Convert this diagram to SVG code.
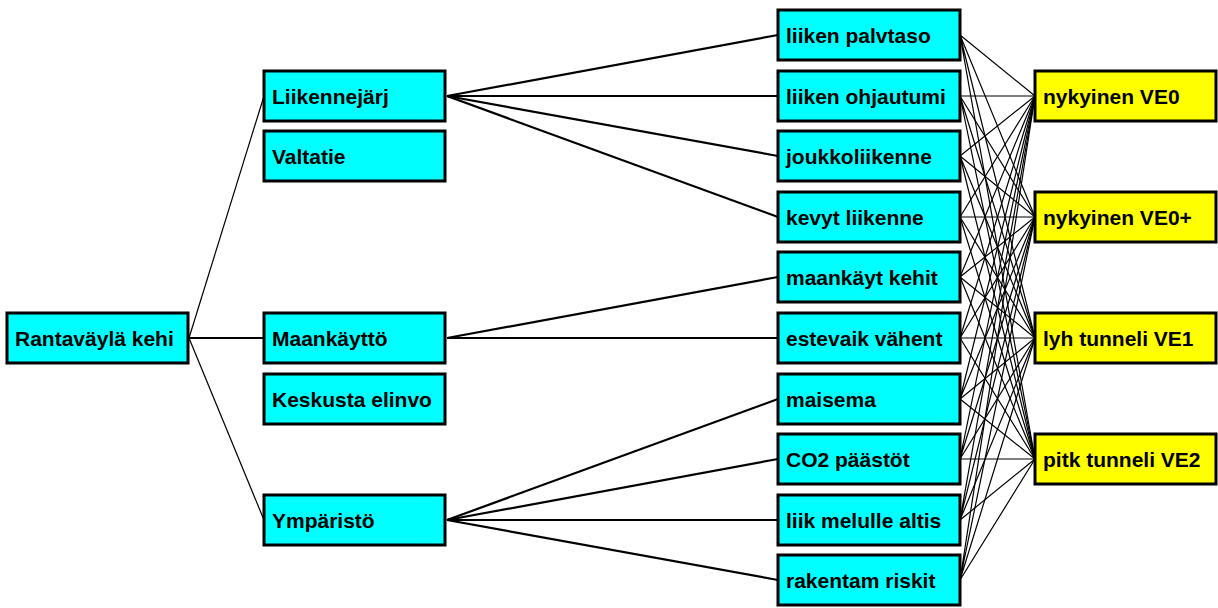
<svg xmlns="http://www.w3.org/2000/svg" width="1218" height="608" viewBox="0 0 1218 608">
  <style>
    .box { stroke: #000; stroke-width: 3; }
    .cyan { fill: #00ffff; }
    .yellow { fill: #ffff00; }
    .lbl { font-family: "Liberation Sans", Arial, sans-serif; font-weight: bold; font-size: 21px; fill: #000; }
    .thin { stroke: #000; stroke-width: 1.2; fill: none; }
    .thick { stroke: #000; stroke-width: 2.2; fill: none; }
  </style>
  <rect width="1218" height="608" fill="#fff"/>

  <!-- connectors -->
  <g id="connectors">
    <!-- root to first level -->
    <line class="thin" x1="189" y1="338" x2="264" y2="96"/>
    <line class="thick" x1="189" y1="338" x2="264" y2="338"/>
    <line class="thin" x1="189" y1="338" x2="264" y2="520"/>
    <!-- Liikennejärj -->
    <line class="thick" x1="447" y1="96" x2="778" y2="35"/>
    <line class="thick" x1="447" y1="96" x2="778" y2="96"/>
    <line class="thick" x1="447" y1="96" x2="778" y2="156"/>
    <line class="thick" x1="447" y1="96" x2="778" y2="217"/>
    <!-- Maankäyttö -->
    <line class="thick" x1="447" y1="338" x2="778" y2="277"/>
    <line class="thick" x1="447" y1="338" x2="778" y2="338"/>
    <!-- Ympäristö -->
    <line class="thick" x1="447" y1="520" x2="778" y2="399"/>
    <line class="thick" x1="447" y1="520" x2="778" y2="459"/>
    <line class="thick" x1="447" y1="520" x2="778" y2="520"/>
    <line class="thick" x1="447" y1="520" x2="778" y2="580"/>
    <!-- criteria to alternatives -->
    <g class="thin">
      <path d="M960 35L1035 96M960 35L1035 217M960 35L1035 338M960 35L1035 459"/>
      <path d="M960 96L1035 96M960 96L1035 217M960 96L1035 338M960 96L1035 459"/>
      <path d="M960 156L1035 96M960 156L1035 217M960 156L1035 338M960 156L1035 459"/>
      <path d="M960 217L1035 96M960 217L1035 217M960 217L1035 338M960 217L1035 459"/>
      <path d="M960 277L1035 96M960 277L1035 217M960 277L1035 338M960 277L1035 459"/>
      <path d="M960 338L1035 96M960 338L1035 217M960 338L1035 338M960 338L1035 459"/>
      <path d="M960 399L1035 96M960 399L1035 217M960 399L1035 338M960 399L1035 459"/>
      <path d="M960 459L1035 96M960 459L1035 217M960 459L1035 338M960 459L1035 459"/>
      <path d="M960 520L1035 96M960 520L1035 217M960 520L1035 338M960 520L1035 459"/>
      <path d="M960 580L1035 96M960 580L1035 217M960 580L1035 338M960 580L1035 459"/>
    </g>
  </g>

  <!-- root -->
  <g id="n-rantavayla"><rect class="box cyan" x="7" y="313" width="181" height="50"/><text class="lbl" x="15" y="346">Rantaväylä kehi</text></g>

  <!-- first level -->
  <g id="n-liikennejarj"><rect class="box cyan" x="264" y="71" width="181" height="50"/><text class="lbl" x="272" y="104">Liikennejärj</text></g>
  <g id="n-valtatie"><rect class="box cyan" x="264" y="131" width="181" height="50"/><text class="lbl" x="272" y="164">Valtatie</text></g>
  <g id="n-maankaytto"><rect class="box cyan" x="264" y="313" width="181" height="50"/><text class="lbl" x="272" y="346">Maankäyttö</text></g>
  <g id="n-keskusta"><rect class="box cyan" x="264" y="374" width="181" height="50"/><text class="lbl" x="272" y="407">Keskusta elinvo</text></g>
  <g id="n-ymparisto"><rect class="box cyan" x="264" y="495" width="181" height="50"/><text class="lbl" x="272" y="528">Ympäristö</text></g>

  <!-- criteria -->
  <g id="n-palvtaso"><rect class="box cyan" x="778" y="10" width="182" height="50"/><text class="lbl" x="786" y="43">liiken palvtaso</text></g>
  <g id="n-ohjautumi"><rect class="box cyan" x="778" y="71" width="182" height="50"/><text class="lbl" x="786" y="104">liiken ohjautumi</text></g>
  <g id="n-joukkoliikenne"><rect class="box cyan" x="778" y="131" width="182" height="50"/><text class="lbl" x="786" y="164">joukkoliikenne</text></g>
  <g id="n-kevyt"><rect class="box cyan" x="778" y="192" width="182" height="50"/><text class="lbl" x="786" y="225">kevyt liikenne</text></g>
  <g id="n-maankayt-kehit"><rect class="box cyan" x="778" y="252" width="182" height="50"/><text class="lbl" x="786" y="285">maankäyt kehit</text></g>
  <g id="n-estevaik"><rect class="box cyan" x="778" y="313" width="182" height="50"/><text class="lbl" x="786" y="346">estevaik vähent</text></g>
  <g id="n-maisema"><rect class="box cyan" x="778" y="374" width="182" height="50"/><text class="lbl" x="786" y="407">maisema</text></g>
  <g id="n-co2"><rect class="box cyan" x="778" y="434" width="182" height="50"/><text class="lbl" x="786" y="467">CO2 päästöt</text></g>
  <g id="n-melu"><rect class="box cyan" x="778" y="495" width="182" height="50"/><text class="lbl" x="786" y="528">liik melulle altis</text></g>
  <g id="n-riskit"><rect class="box cyan" x="778" y="555" width="182" height="50"/><text class="lbl" x="786" y="588">rakentam riskit</text></g>

  <!-- alternatives -->
  <g id="n-ve0"><rect class="box yellow" x="1035" y="71" width="181" height="50"/><text class="lbl" x="1043" y="104">nykyinen VE0</text></g>
  <g id="n-ve0plus"><rect class="box yellow" x="1035" y="192" width="181" height="50"/><text class="lbl" x="1043" y="225">nykyinen VE0+</text></g>
  <g id="n-ve1"><rect class="box yellow" x="1035" y="313" width="181" height="50"/><text class="lbl" x="1043" y="346">lyh tunneli VE1</text></g>
  <g id="n-ve2"><rect class="box yellow" x="1035" y="434" width="181" height="50"/><text class="lbl" x="1043" y="467">pitk tunneli VE2</text></g>
</svg>
